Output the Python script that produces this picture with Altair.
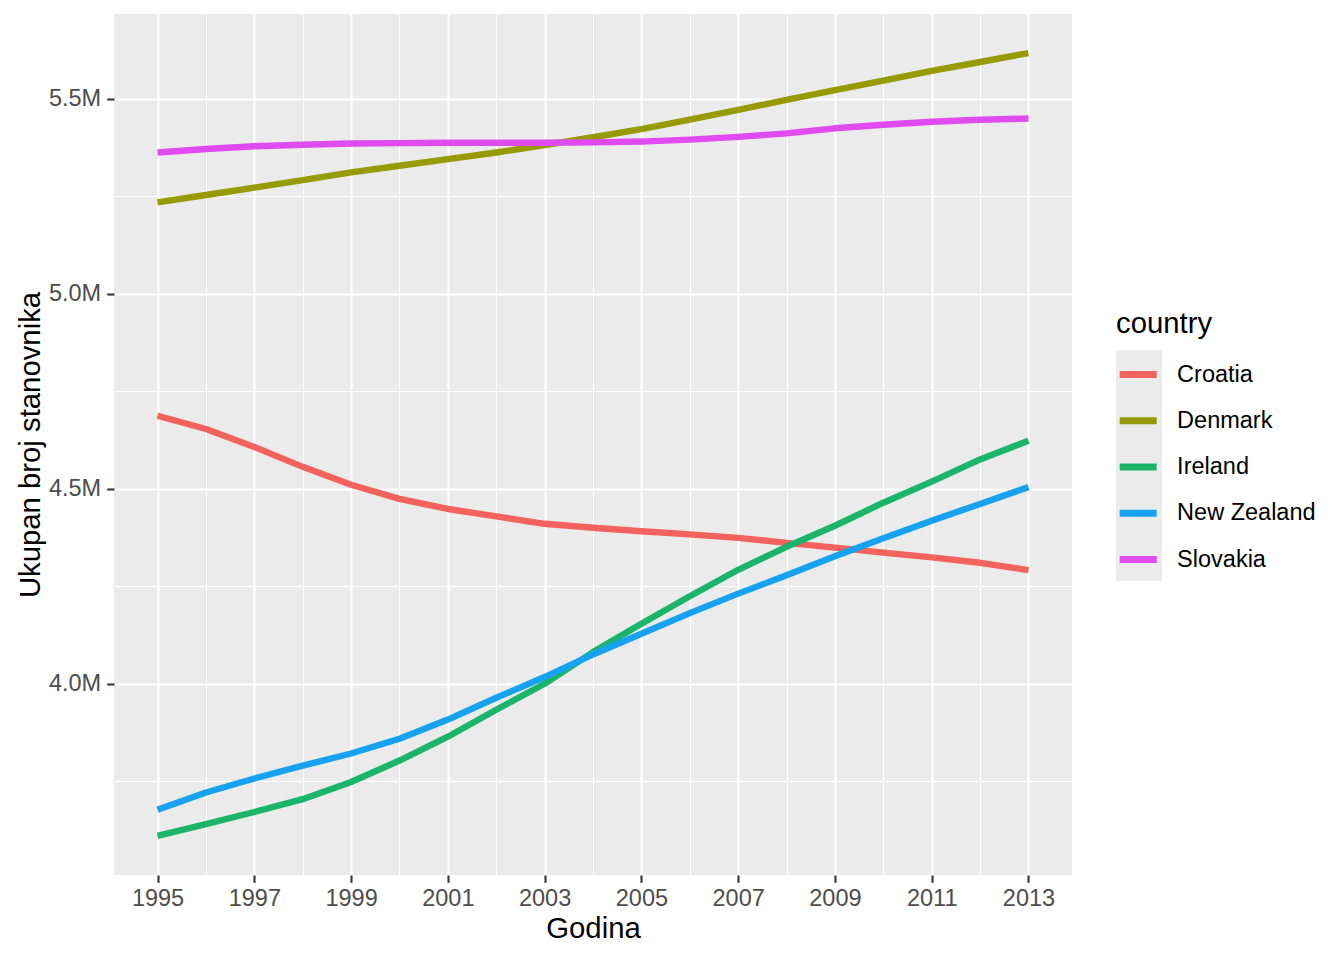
import altair as alt
import pandas as pd

years = list(range(1995, 2014))
countries = ["Croatia", "Denmark", "Ireland", "New Zealand", "Slovakia"]

# population in millions
croatia = [4.687, 4.653, 4.607, 4.556, 4.510, 4.474, 4.448, 4.429, 4.410, 4.400,
           4.391, 4.383, 4.374, 4.361, 4.349, 4.336, 4.324, 4.310, 4.291]
denmark = [5.234, 5.253, 5.272, 5.291, 5.311, 5.328, 5.345, 5.362, 5.381, 5.401,
           5.422, 5.446, 5.471, 5.497, 5.522, 5.546, 5.571, 5.594, 5.617]
ireland = [3.610, 3.640, 3.671, 3.704, 3.748, 3.803, 3.864, 3.933, 4.000, 4.081,
           4.154, 4.224, 4.292, 4.351, 4.405, 4.464, 4.518, 4.575, 4.623]
new_zealand = [3.677, 3.721, 3.757, 3.790, 3.821, 3.859, 3.908, 3.964, 4.017, 4.075,
               4.128, 4.181, 4.231, 4.278, 4.327, 4.373, 4.418, 4.461, 4.504]
slovakia = [5.362, 5.371, 5.378, 5.382, 5.385, 5.386, 5.387, 5.387, 5.387, 5.388,
            5.390, 5.395, 5.402, 5.411, 5.424, 5.433, 5.441, 5.446, 5.449]

colors = ["#F3625C", "#979A00", "#1AB56B", "#16A2F0", "#DF4BEF"]
y_ticks = [3750000, 4000000, 4250000, 4500000, 4750000, 5000000, 5250000, 5500000]

series = {"Croatia": croatia, "Denmark": denmark, "Ireland": ireland,
          "New Zealand": new_zealand, "Slovakia": slovakia}
rows = []
for c in countries:
    for yr, v in zip(years, series[c]):
        rows.append({"country": c, "key": c, "year": yr, "pop": v * 1e6})
df = pd.DataFrame(rows)

FONT = "Liberation Sans"

x_enc = alt.X(
    "year:Q",
    scale=alt.Scale(domain=[1994.1, 2013.9], nice=False, zero=False),
    axis=alt.Axis(
        values=years,
        title="Godina",
        labelExpr="datum.value % 2 == 1 ? format(datum.value, 'd') : ''",
        gridWidth={"condition": {"test": "datum.value % 2 == 1", "value": 2.1}, "value": 1.07},
        tickOpacity={"condition": {"test": "datum.value % 2 == 1", "value": 1}, "value": 0},
        labelPadding=4,
        titleX=479,
        titleY=62.3,
        titleBaseline="alphabetic",
        titleAlign="center",
    ),
)
y_enc = alt.Y(
    "pop:Q",
    scale=alt.Scale(domain=[3509500, 5717100], nice=False, zero=False),
    axis=alt.Axis(
        values=y_ticks,
        title="Ukupan broj stanovnika",
        labelExpr="datum.value % 500000 == 0 ? format(datum.value / 1000000, '.1f') + 'M' : ''",
        gridWidth={"condition": {"test": "datum.value % 500000 == 0", "value": 2.1}, "value": 1.07},
        tickOpacity={"condition": {"test": "datum.value % 500000 == 0", "value": 1}, "value": 0},
        labelPadding=6,
        labelBaseline="middle",
        titleX=-74.2,
        titleY=430.5,
        titleAngle=270,
        titleBaseline="alphabetic",
        titleAlign="center",
    ),
)

base = alt.Chart(df)

# grey key background column of the legend (data-driven domain so it stays a separate legend)
keys = base.mark_point(filled=True, size=0, color="#EBEBEB", opacity=1).encode(
    x=x_enc,
    y=y_enc,
    shape=alt.Shape(
        "key:N",
        scale=alt.Scale(range=["square"] * 5),
        legend=alt.Legend(
            title=None,
            orient="none",
            legendX=1002,
            legendY=336.4,
            direction="vertical",
            symbolSize=2116,
            symbolStrokeWidth=0,
            symbolOpacity=1,
            symbolFillColor="#EBEBEB",
            fillColor="#EBEBEB",
            rowPadding=0,
            padding=0,
            labelExpr="''",
            labelFontSize=1,
            labelOffset=0,
            zindex=0,
        ),
    ),
)

lines = base.mark_line(strokeWidth=6.4, strokeCap="butt", strokeJoin="round").encode(
    x=x_enc,
    y=y_enc,
    color=alt.Color(
        "country:N",
        scale=alt.Scale(domain=countries, range=colors),
        legend=alt.Legend(
            title="country",
            orient="none",
            legendX=1002,
            legendY=296,
            direction="vertical",
            symbolType="stroke",
            symbolSize=1369,
            symbolStrokeWidth=7,
            symbolOffset=0.2,
            labelOffset=16.9,
            rowPadding=10.25,
            padding=0,
            titlePadding=13.3,
            labelFont=FONT,
            labelFontSize=23.5,
            labelColor="black",
            titleFont=FONT,
            titleFontSize=29.3,
            titleFontWeight="normal",
            titleColor="black",
            zindex=1,
        ),
    ),
)

chart = alt.layer(keys, lines).properties(
    width=958,
    height=861,
    autosize=alt.AutoSizeParams(type="none"),
    padding={"left": 106, "top": 6, "right": 264, "bottom": 77},
).configure_view(
    fill="#EBEBEB", strokeWidth=0
).configure_axis(
    domain=False,
    grid=True,
    gridColor="white",
    tickColor="#333333",
    tickWidth=2.1,
    tickSize=7.3,
    labelFont=FONT,
    labelFontSize=23.5,
    labelColor="#4D4D4D",
    titleFont=FONT,
    titleFontSize=29.3,
    titleFontWeight="normal",
    titleColor="black",
)

chart.save("out.html", embed_options={"renderer": "svg", "actions": False})
